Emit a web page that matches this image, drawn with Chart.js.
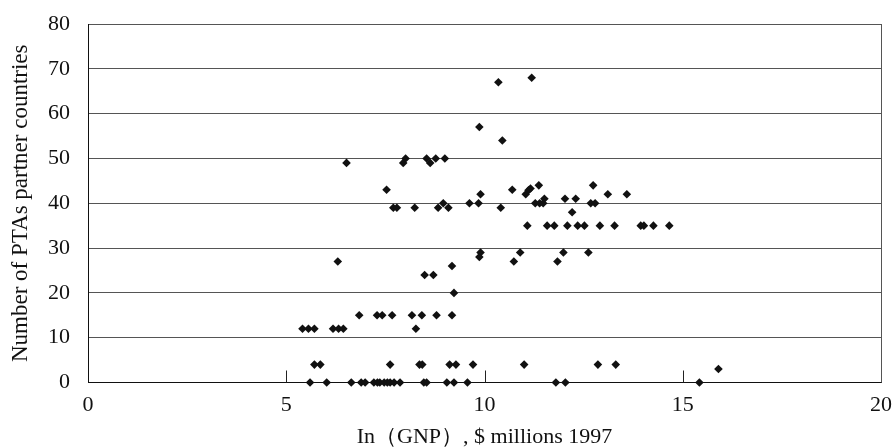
<!DOCTYPE html>
<html>
<head>
<meta charset="utf-8">
<script src="https://cdn.jsdelivr.net/npm/chart.js@4.4.1/dist/chart.umd.min.js"></script>
<style>
  html, body { margin: 0; padding: 0; background: #fff; }
  #wrap { width: 895px; height: 448px; position: relative; }
</style>
</head>
<body>
<div id="wrap"><canvas id="c" width="895" height="448"></canvas></div>
<script>
// ln(GNP), $ millions 1997
const gnp = [
  11.19, 10.35, 9.87, 10.45,
  8.01, 8.54, 8.77, 9.00,
  6.52, 7.95, 8.63,
  11.37, 12.74,
  7.53, 10.70, 11.16, 11.11, 11.04,
  9.90, 13.11, 13.59,
  11.51, 12.03, 12.30,
  8.96, 9.62, 9.85, 11.28, 11.39, 11.48, 12.68, 12.79,
  7.70, 7.79, 8.24, 8.83, 9.09, 10.41,
  12.21,
  11.08, 11.58, 11.76, 12.09, 12.35, 12.52, 12.91, 13.28, 13.94, 14.02, 14.26, 14.66,
  9.90, 10.90, 11.99, 12.62,
  9.87,
  6.30, 10.74, 11.84,
  9.18,
  8.49, 8.71,
  9.23,
  6.84, 7.29, 7.42, 7.67, 8.17, 8.42, 8.79, 9.18,
  5.41, 5.56, 5.71, 6.18, 6.32, 6.44, 8.27,
  5.71, 5.86, 7.62, 8.36, 8.43, 9.12, 9.28, 9.71, 11.00, 12.86, 13.31,
  15.90,
  5.60, 6.02, 6.64, 6.89, 6.99, 7.21, 7.30, 7.36, 7.47, 7.55, 7.62, 7.72, 7.87, 8.47, 8.54, 9.05, 9.23, 9.57, 11.80, 12.04, 15.42
];
// Number of PTAs partner countries
const ptas = [
  68, 67, 57, 54,
  50, 50, 50, 50,
  49, 49, 49,
  44, 44,
  43, 43, 43.3, 42.9, 42,
  42, 42, 42,
  41, 41, 41,
  40, 40, 40, 40, 40, 40, 40, 40,
  39, 39, 39, 39, 39, 39,
  38,
  35, 35, 35, 35, 35, 35, 35, 35, 35, 35, 35, 35,
  29, 29, 29, 29,
  28,
  27, 27, 27,
  26,
  24, 24,
  20,
  15, 15, 15, 15, 15, 15, 15, 15,
  12, 12, 12, 12, 12, 12, 12,
  4, 4, 4, 4, 4, 4, 4, 4, 4, 4, 4,
  3,
  0, 0, 0, 0, 0, 0, 0, 0, 0, 0, 0, 0, 0, 0, 0, 0, 0, 0, 0, 0, 0
];
const xTicks = [0, 5, 10, 15, 20];
const yTicks = [0, 10, 20, 30, 40, 50, 60, 70, 80];
const xTitle = 'In（GNP）, $ millions 1997';
const yTitle = 'Number of PTAs partner countries';

const points = gnp.map((x, i) => ({ x: x, y: ptas[i] }));
const serif = '"Liberation Serif", "Times New Roman", serif';

const framePlugin = {
  id: 'frame',
  afterDatasetsDraw(chart) {
    const { ctx, chartArea: a, scales } = chart;
    ctx.save();
    ctx.strokeStyle = '#555';
    ctx.lineWidth = 1;
    ctx.beginPath();
    ctx.moveTo(Math.round(a.right) + 0.5, a.top);
    ctx.lineTo(Math.round(a.right) + 0.5, a.bottom);
    ctx.stroke();
    ctx.strokeStyle = '#222';
    [5, 10, 15].forEach(v => {
      const px = Math.round(scales.x.getPixelForValue(v)) + 0.5;
      ctx.beginPath();
      ctx.moveTo(px, a.bottom);
      ctx.lineTo(px, a.bottom - 12);
      ctx.stroke();
    });
    ctx.restore();
  }
};

new Chart(document.getElementById('c'), {
  type: 'scatter',
  data: {
    datasets: [{
      data: points,
      pointStyle: 'rectRot',
      pointRadius: 4.3,
      pointHoverRadius: 4.3,
      backgroundColor: '#111',
      borderColor: '#111',
      borderWidth: 0,
      clip: false
    }]
  },
  options: {
    responsive: false,
    animation: false,
    devicePixelRatio: 1,
    layout: { padding: { left: 0, right: 14, top: 24, bottom: 0 } },
    plugins: { legend: { display: false }, tooltip: { enabled: false } },
    scales: {
      x: {
        type: 'linear',
        min: 0, max: 20,
        afterBuildTicks(s) { s.ticks = xTicks.map(v => ({ value: v })); },
        afterFit(s) { s.height = 65.5; s.paddingLeft = 0; s.paddingRight = 0; },
        grid: { display: false, drawTicks: false },
        border: { display: true, color: '#111', width: 1 },
        ticks: { color: '#111', font: { family: serif, size: 22 }, padding: 10, maxRotation: 0 },
        title: { display: true, text: xTitle, color: '#111', font: { family: serif, size: 22, lineHeight: 1 }, padding: { top: 8, bottom: 0 } }
      },
      y: {
        type: 'linear',
        min: 0, max: 80,
        afterBuildTicks(s) { s.ticks = yTicks.map(v => ({ value: v })); },
        afterFit(s) { s.width = 88; s.paddingTop = 0; s.paddingBottom = 0; },
        grid: { color: '#555', lineWidth: 1, drawTicks: false },
        border: { display: true, color: '#111', width: 1 },
        ticks: { color: '#111', font: { family: serif, size: 22 }, padding: 18 },
        title: { display: true, text: yTitle, color: '#111', font: { family: serif, size: 23 }, padding: { top: 7, bottom: 0 } }
      }
    }
  },
  plugins: [framePlugin]
});
</script>
</body>
</html>
